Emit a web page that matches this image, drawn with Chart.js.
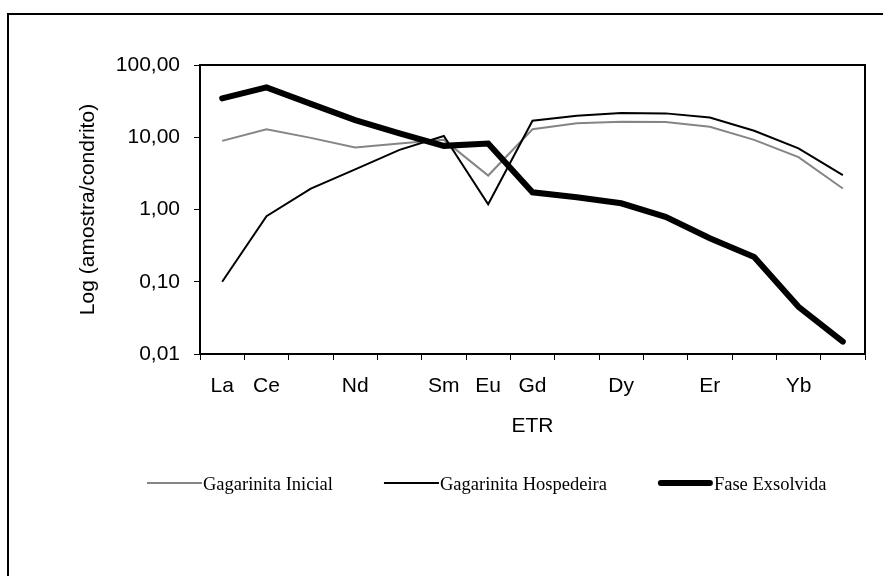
<!DOCTYPE html>
<html>
<head>
<meta charset="utf-8">
<script src="https://cdn.jsdelivr.net/npm/chart.js"></script>
<style>
  html, body { margin: 0; padding: 0; background: #fff; }
</style>
</head>
<body>
<canvas id="chart" width="883" height="576"></canvas>
<script>
// ETR normalizados ao condrito (La ... Lu); só alguns elementos levam rótulo
const rotulos = ['La', 'Ce', '', 'Nd', '', 'Sm', 'Eu', 'Gd', '', 'Dy', '', 'Er', '', 'Yb', ''];
const inicial = [8.9, 12.9, 9.8, 7.2, 8.2, 9.2, 2.95, 12.9, 15.6, 16.4, 16.3, 14.0, 9.2, 5.3, 1.95];
const hospedeira = [0.10, 0.81, 1.95, 3.6, 6.7, 10.4, 1.18, 16.9, 19.9, 21.7, 21.4, 18.7, 12.3, 7.0, 3.0];
const exsolvida = [34.5, 49, 29, 17.3, 11.3, 7.6, 8.2, 1.73, 1.48, 1.22, 0.79, 0.40, 0.22, 0.045, 0.0148];
const ticksY = [0.01, 0.1, 1, 10, 100];

const fonteEixo = { family: 'Liberation Sans', size: 21 };

// moldura da área do gráfico (topo e direita) e borda externa
const moldura = {
    id: 'moldura',
    afterDraw(chart) {
        const { ctx, chartArea: a } = chart;
        ctx.save();
        ctx.strokeStyle = '#000';
        ctx.lineWidth = 2;
        ctx.beginPath();
        ctx.moveTo(a.left, a.top);
        ctx.lineTo(a.right, a.top);
        ctx.lineTo(a.right, a.bottom);
        ctx.stroke();
        ctx.beginPath();
        ctx.moveTo(883, 14);
        ctx.lineTo(8, 14);
        ctx.lineTo(8, 576);
        ctx.stroke();
        ctx.restore();
    }
};

// legenda desenhada à mão: traço colado ao texto
const legenda = {
    id: 'legenda',
    afterDraw(chart) {
        const { ctx } = chart;
        let x = 147;
        const y = 483;
        ctx.save();
        ctx.font = '18.5px "Liberation Serif"';
        ctx.textBaseline = 'alphabetic';
        ctx.fillStyle = '#000';
        chart.data.datasets.forEach(ds => {
            ctx.strokeStyle = ds.borderColor;
            ctx.lineWidth = ds.borderWidth;
            ctx.lineCap = ds.borderCapStyle || 'butt';
            const r = ds.borderCapStyle === 'round' ? ds.borderWidth / 2 : 0;
            ctx.beginPath();
            ctx.moveTo(x + r, y);
            ctx.lineTo(x + 55 - r, y);
            ctx.stroke();
            ctx.fillText(ds.label, x + 56, y + 7);
            x += 56 + ctx.measureText(ds.label).width + 51;
        });
        ctx.restore();
    }
};

const ctx = document.getElementById('chart').getContext('2d');
new Chart(ctx, {
    type: 'line',
    data: {
        labels: rotulos,
        datasets: [
            { label: 'Gagarinita Inicial', data: inicial, borderColor: '#858585', borderWidth: 2, order: 2 },
            { label: 'Gagarinita Hospedeira', data: hospedeira, borderColor: '#000', borderWidth: 2, order: 1 },
            { label: 'Fase Exsolvida', data: exsolvida, borderColor: '#000', borderWidth: 6, borderCapStyle: 'round', order: 0 },
        ],
    },
    options: {
        responsive: false,
        animation: false,
        devicePixelRatio: 1,
        layout: { padding: { left: 76, top: 65, right: 18, bottom: 137 } },
        elements: { point: { radius: 0 }, line: { tension: 0 } },
        plugins: { legend: { display: false }, tooltip: { enabled: false } },
        scales: {
            x: {
                offset: true,
                grid: { offset: true, drawOnChartArea: false, drawTicks: true, tickLength: 6, color: '#000', lineWidth: 1 },
                border: { color: '#000', width: 2 },
                ticks: { autoSkip: false, maxRotation: 0, padding: 14, color: '#000', font: fonteEixo },
                title: { display: true, text: 'ETR', color: '#000', font: fonteEixo, padding: 0 },
                afterFit: s => { s.height = 85; },
            },
            y: {
                type: 'logarithmic',
                min: 0.01,
                max: 100,
                afterBuildTicks: s => { s.ticks = ticksY.map(v => ({ value: v })); },
                grid: { drawOnChartArea: false, drawTicks: true, tickLength: 6, color: '#000', lineWidth: 1 },
                border: { color: '#000', width: 2 },
                ticks: {
                    padding: 14,
                    color: '#000',
                    font: fonteEixo,
                    callback: v => v.toFixed(2).replace('.', ','),
                },
                title: { display: true, text: 'Log (amostra/condrito)', color: '#000', font: fonteEixo, padding: 0 },
                afterFit: s => { s.width = 124; },
            },
        },
    },
    plugins: [moldura, legenda],
});
</script>
</body>
</html>
